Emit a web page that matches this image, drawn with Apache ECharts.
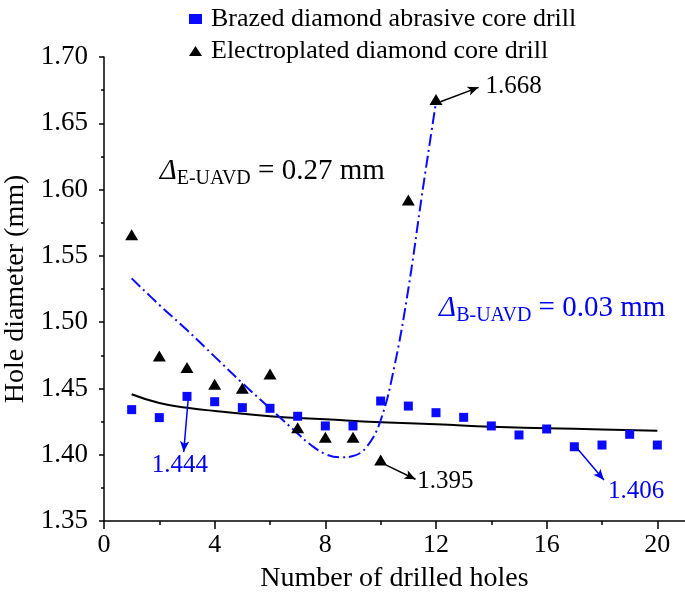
<!DOCTYPE html>
<html>
<head>
<meta charset="utf-8">
<script src="https://cdn.jsdelivr.net/npm/echarts@6/dist/echarts.min.js"></script>
<style>
html,body{margin:0;padding:0;background:#fff;}
#chart{width:685px;height:602px;}
</style>
</head>
<body>
<div id="chart"></div>
<script>
// ---- data ----
const holes = [1,2,3,4,5,6,7,8,9,10,11,12,13,14,15,16,17,18,19,20];
const brazed = [1.434,1.428,1.444,1.440,1.4355,1.435,1.429,1.4217,1.4217,1.4405,1.4367,1.4317,1.4282,1.4217,1.4149,1.4194,1.406,1.4073,1.4154,1.4073];
const electroHoles = [1,2,3,4,5,6,7,8,9,10,11,12];
const electro = [1.566,1.4745,1.4657,1.4531,1.4501,1.4609,1.4204,1.4131,1.4131,1.396,1.5921,1.668];
// fitted trend of brazed drill (black solid)
const brazedFitX = [1,2,3,4,6,8,10,12,14,16,18,20];
const brazedFitY = [1.4456,1.439,1.4355,1.433,1.429,1.4267,1.4245,1.423,1.421,1.420,1.419,1.418];
// fitted trend of electroplated drill (blue dash-dot)
const electroFitX = [1,2,3,4,5,6,7,7.5,8,8.5,9,9.5,10,10.5,11,11.5,12];
const electroFitY = [1.533,1.513,1.494,1.474,1.454,1.435,1.416,1.407,1.4005,1.398,1.399,1.406,1.426,1.467,1.525,1.597,1.666];
const xTicks = [0,4,8,12,16,20];
const xMinorTicks = [2,6,10,14,18];
const yTicks = [1.35,1.40,1.45,1.50,1.55,1.60,1.65,1.70];
const seriesNames = ['Brazed diamond abrasive core drill','Electroplated diamond core drill'];
// annotations: [x, y, text, colour]
const valueNotes = [
  [14.81, 1.6775, '1.668', 'black'],
  [12.34, 1.3797, '1.395', 'black'],
  [19.23, 1.3721, '1.406', 'blue'],
  [2.74, 1.392, '1.444', 'blue']
];
// arrows: [x1,y1,x2,y2,colour]
const arrows = [
  [12.16, 1.6663, 13.54, 1.6771, 'black'],
  [10.2, 1.3922, 11.26, 1.3815, 'black'],
  [17.1, 1.4048, 18.07, 1.3809, 'blue'],
  [3.04, 1.4413, 2.88, 1.402, 'blue']
];
const deltaNotes = [
  [6.08, 1.6135, 'E-UAVD', '0.27 mm', 'black'],
  [16.2, 1.5104, 'B-UAVD', '0.03 mm', 'blue']
];

const FONT = '"Liberation Serif", "Times New Roman", serif';
const BLUE = '#0a0aff';
const TXTBLUE = '#0000f0';
const colOf = c => c === 'blue' ? TXTBLUE : '#000';

const chart = echarts.init(document.getElementById('chart'), null, {renderer:'canvas'});

const option = {
  animation: false,
  backgroundColor: '#fff',
  textStyle: {fontFamily: FONT},
  grid: {left: 104, right: 0, top: 57, bottom: 81, containLabel: false, outerBoundsMode: 'none'},
  legend: {
    data: [
      {name: seriesNames[0], icon: 'rect'},
      {name: seriesNames[1], icon: 'triangle'}
    ],
    orient: 'vertical',
    left: 184, top: 1,
    itemWidth: 13, itemHeight: 10, itemGap: 6,
    textStyle: {fontFamily: FONT, fontSize: 26, color: '#000', padding: [0,0,0,4]}
  },
  xAxis: [{
    type: 'value', min: 0, max: 21,
    name: 'Number of drilled holes', nameLocation: 'middle', nameGap: 44,
    nameTextStyle: {fontFamily: FONT, fontSize: 28, color: '#000'},
    axisLine: {show: true, lineStyle: {color: '#000', width: 1.5}},
    axisTick: {show: true, length: 8, customValues: xTicks, lineStyle: {color: '#000', width: 1.5}},
    splitLine: {show: false},
    axisLabel: {fontFamily: FONT, fontSize: 26, color: '#000', margin: 11, customValues: xTicks}
  }, {
    type: 'value', min: 0, max: 21, position: 'bottom', offset: 0,
    axisLine: {show: false},
    axisTick: {show: true, length: 4, customValues: xMinorTicks, lineStyle: {color: '#000', width: 1.5}},
    axisLabel: {show: false}, splitLine: {show: false}
  }],
  yAxis: {
    type: 'value', min: 1.35, max: 1.70, interval: 0.05,
    name: 'Hole diameter (mm)', nameLocation: 'middle', nameGap: 67,
    nameTextStyle: {fontFamily: FONT, fontSize: 28, color: '#000'},
    axisLine: {show: true, lineStyle: {color: '#000', width: 1.5}},
    axisTick: {show: true, length: 5, lineStyle: {color: '#000', width: 1.5}},
    minorTick: {show: true, splitNumber: 2, length: 3, lineStyle: {color: '#000', width: 1.5}},
    splitLine: {show: false},
    axisLabel: {fontFamily: FONT, fontSize: 27, color: '#000', margin: 16,
      formatter: v => {
        const t = yTicks.find(k => Math.abs(k - v) < 1e-6);
        return t !== undefined ? t.toFixed(2) : '';
      }}
  },
  series: [
    {
      name: 'brazedFit', type: 'line', smooth: true, symbol: 'none',
      data: brazedFitX.map((x,i) => [x, brazedFitY[i]]),
      lineStyle: {color: '#000', width: 2}, z: 2, silent: true
    },
    {
      name: 'electroFit', type: 'line', smooth: 0.4, symbol: 'none',
      data: electroFitX.map((x,i) => [x, electroFitY[i]]),
      lineStyle: {color: BLUE, width: 2, type: [12,4,2,4]}, z: 2, silent: true
    },
    {
      name: seriesNames[0], type: 'scatter', symbol: 'rect', symbolSize: 9,
      itemStyle: {color: BLUE, opacity: 1},
      data: holes.map((x,i) => [x, brazed[i]]), z: 3
    },
    {
      name: seriesNames[1], type: 'scatter', symbol: 'triangle', symbolSize: [13,11],
      itemStyle: {color: '#000', opacity: 1},
      data: electroHoles.map((x,i) => [x, electro[i]]), z: 3
    },
    {
      name: 'notes', type: 'scatter', symbolSize: 0, silent: true, z: 5,
      itemStyle: {opacity: 1},
      data: valueNotes.map(n => ({
        value: [n[0], n[1]],
        label: {show: true, position: 'inside', formatter: n[2],
          fontFamily: FONT, fontSize: 25, color: colOf(n[3])}
      })).concat(deltaNotes.map(n => ({
        value: [n[0], n[1]],
        label: {show: true, position: 'inside',
          formatter: '{d|Δ}{s|' + n[2] + '}{n| = ' + n[3] + '}',
          rich: {
            d: {fontFamily: FONT, fontSize: 29, fontStyle: 'italic', color: colOf(n[4]), lineHeight: 34, verticalAlign: 'middle'},
            s: {fontFamily: FONT, fontSize: 20, color: colOf(n[4]), lineHeight: 20, verticalAlign: 'bottom'},
            n: {fontFamily: FONT, fontSize: 29, color: colOf(n[4]), lineHeight: 34, verticalAlign: 'middle'}
          }}
      }))),
      markLine: {
        silent: true, symbol: ['none','arrow'], symbolSize: [7,11],
        label: {show: false},
        data: arrows.map(a => [
          {coord: [a[0], a[1]], lineStyle: {color: colOf(a[4]), width: 1.5, type: 'solid', opacity: 1}},
          {coord: [a[2], a[3]]}
        ])
      }
    }
  ]
};
chart.setOption(option);
</script>
</body>
</html>
